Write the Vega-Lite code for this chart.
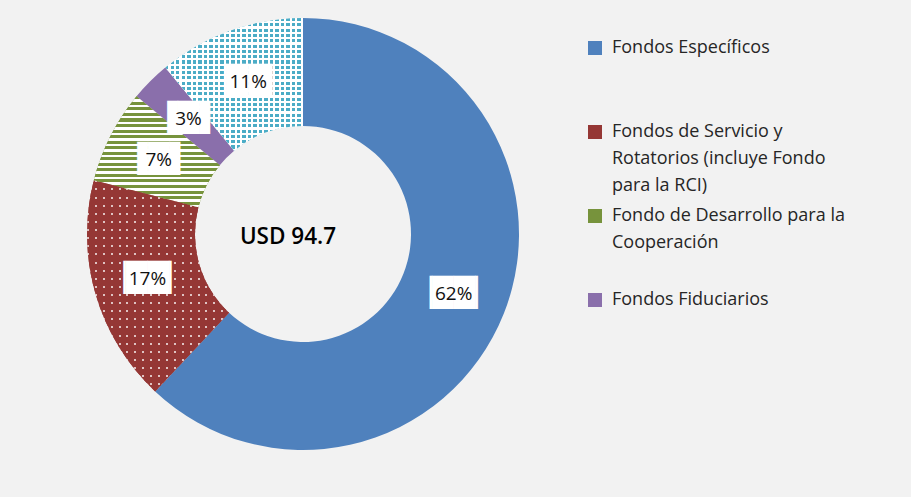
{
  "$schema": "https://vega.github.io/schema/vega-lite/v6.json",
  "width": 566,
  "height": 468,
  "autosize": {"type": "none"},
  "padding": {"left": 20, "top": 0, "right": 325, "bottom": 29},
  "background": "#f2f2f2",
  "config": {"view": {"stroke": null}, "font": "Open Sans", "style": {"guide-label": {"lineHeight": 27}}},
  "data": {"values": [
    {"cat": "Fondos Específicos", "share": 0.62, "order": 1},
    {"cat": "Fondos de Servicio y Rotatorios (incluye Fondo para la RCI)", "share": 0.17, "order": 2},
    {"cat": "Fondo de Desarrollo para la Cooperación", "share": 0.07, "order": 3},
    {"cat": "Fondos Fiduciarios", "share": 0.03, "order": 4},
    {"cat": "Otros", "share": 0.11, "order": 5}
  ]},
  "layer": [
    {
      "transform": [{"stack": "share", "groupby": [], "sort": [{"field": "order", "order": "ascending"}], "as": ["t0", "t1"]}],
      "mark": {"type": "arc", "outerRadius": 216, "innerRadius": 108},
      "encoding": {
        "theta": {"field": "t0", "type": "quantitative", "scale": {"domain": [0, 1]}},
        "theta2": {"field": "t1"},
        "color": {
          "field": "cat", "type": "nominal",
          "scale": {
            "domain": ["Fondos Específicos", "Fondos de Servicio y Rotatorios (incluye Fondo para la RCI)", "Fondo de Desarrollo para la Cooperación", "Fondos Fiduciarios", "Otros"],
            "range": ["#4f81bd", "#953735", "#77933c", "#8a6fab", "#ffffff"]
          },
          "legend": {
            "values": ["Fondos Específicos", "Fondos de Servicio y Rotatorios (incluye Fondo para la RCI)", "Fondo de Desarrollo para la Cooperación", "Fondos Fiduciarios"],
            "orient": "none", "legendX": 566, "legendY": 39,
            "title": null, "padding": 0,
            "symbolType": "square", "symbolSize": 196, "symbolStrokeWidth": 0,
            "labelFont": "Open Sans", "labelFontSize": 18, "labelColor": "#262626",
            "labelLimit": 330, "labelOffset": 8, "rowPadding": 12,
            "labelExpr": "datum.value == 'Fondos de Servicio y Rotatorios (incluye Fondo para la RCI)' ? ['Fondos de Servicio  y', 'Rotatorios  (incluye  Fondo', 'para  la RCI)'] : datum.value == 'Fondo de Desarrollo para la Cooperación' ? ['Fondo de Desarrollo  para la', 'Cooperación', ''] : datum.value == 'Fondos Fiduciarios' ? 'Fondos  Fiduciarios' : ['Fondos  Específicos', '', '']"
          }
        }
      }
    },
    {
      "transform": [
        {"stack": "share", "groupby": [], "sort": [{"field": "order", "order": "ascending"}], "as": ["t0", "t1"]},
        {"filter": "datum.order == 3"}
      ],
      "mark": {
        "type": "arc", "outerRadius": 216, "innerRadius": 108,
        "fill": {
          "gradient": "linear", "x1": 0, "y1": 0, "x2": 0, "y2": 1,
          "stops": [
            {"offset": 0, "color": "#77933c"}, {"offset": 0.0275, "color": "#77933c"}, {"offset": 0.0275, "color": "#ffffff"}, {"offset": 0.05, "color": "#ffffff"},
            {"offset": 0.05, "color": "#77933c"}, {"offset": 0.0775, "color": "#77933c"}, {"offset": 0.0775, "color": "#ffffff"}, {"offset": 0.1, "color": "#ffffff"},
            {"offset": 0.1, "color": "#77933c"}, {"offset": 0.1275, "color": "#77933c"}, {"offset": 0.1275, "color": "#ffffff"}, {"offset": 0.15, "color": "#ffffff"},
            {"offset": 0.15, "color": "#77933c"}, {"offset": 0.1775, "color": "#77933c"}, {"offset": 0.1775, "color": "#ffffff"}, {"offset": 0.2, "color": "#ffffff"},
            {"offset": 0.2, "color": "#77933c"}, {"offset": 0.2275, "color": "#77933c"}, {"offset": 0.2275, "color": "#ffffff"}, {"offset": 0.25, "color": "#ffffff"},
            {"offset": 0.25, "color": "#77933c"}, {"offset": 0.2775, "color": "#77933c"}, {"offset": 0.2775, "color": "#ffffff"}, {"offset": 0.3, "color": "#ffffff"},
            {"offset": 0.3, "color": "#77933c"}, {"offset": 0.3275, "color": "#77933c"}, {"offset": 0.3275, "color": "#ffffff"}, {"offset": 0.35, "color": "#ffffff"},
            {"offset": 0.35, "color": "#77933c"}, {"offset": 0.3775, "color": "#77933c"}, {"offset": 0.3775, "color": "#ffffff"}, {"offset": 0.4, "color": "#ffffff"},
            {"offset": 0.4, "color": "#77933c"}, {"offset": 0.4275, "color": "#77933c"}, {"offset": 0.4275, "color": "#ffffff"}, {"offset": 0.45, "color": "#ffffff"},
            {"offset": 0.45, "color": "#77933c"}, {"offset": 0.4775, "color": "#77933c"}, {"offset": 0.4775, "color": "#ffffff"}, {"offset": 0.5, "color": "#ffffff"},
            {"offset": 0.5, "color": "#77933c"}, {"offset": 0.5275, "color": "#77933c"}, {"offset": 0.5275, "color": "#ffffff"}, {"offset": 0.55, "color": "#ffffff"},
            {"offset": 0.55, "color": "#77933c"}, {"offset": 0.5775, "color": "#77933c"}, {"offset": 0.5775, "color": "#ffffff"}, {"offset": 0.6, "color": "#ffffff"},
            {"offset": 0.6, "color": "#77933c"}, {"offset": 0.6275, "color": "#77933c"}, {"offset": 0.6275, "color": "#ffffff"}, {"offset": 0.65, "color": "#ffffff"},
            {"offset": 0.65, "color": "#77933c"}, {"offset": 0.6775, "color": "#77933c"}, {"offset": 0.6775, "color": "#ffffff"}, {"offset": 0.7, "color": "#ffffff"},
            {"offset": 0.7, "color": "#77933c"}, {"offset": 0.7275, "color": "#77933c"}, {"offset": 0.7275, "color": "#ffffff"}, {"offset": 0.75, "color": "#ffffff"},
            {"offset": 0.75, "color": "#77933c"}, {"offset": 0.7775, "color": "#77933c"}, {"offset": 0.7775, "color": "#ffffff"}, {"offset": 0.8, "color": "#ffffff"},
            {"offset": 0.8, "color": "#77933c"}, {"offset": 0.8275, "color": "#77933c"}, {"offset": 0.8275, "color": "#ffffff"}, {"offset": 0.85, "color": "#ffffff"},
            {"offset": 0.85, "color": "#77933c"}, {"offset": 0.8775, "color": "#77933c"}, {"offset": 0.8775, "color": "#ffffff"}, {"offset": 0.9, "color": "#ffffff"},
            {"offset": 0.9, "color": "#77933c"}, {"offset": 0.9275, "color": "#77933c"}, {"offset": 0.9275, "color": "#ffffff"}, {"offset": 0.95, "color": "#ffffff"},
            {"offset": 0.95, "color": "#77933c"}, {"offset": 0.9775, "color": "#77933c"}, {"offset": 0.9775, "color": "#ffffff"}, {"offset": 1, "color": "#ffffff"}
          ]
        }
      },
      "encoding": {
        "theta": {"field": "t0", "type": "quantitative", "scale": {"domain": [0, 1]}},
        "theta2": {"field": "t1"}
      }
    },
    {
      "transform": [
        {"stack": "share", "groupby": [], "sort": [{"field": "order", "order": "ascending"}], "as": ["t0", "t1"]},
        {"filter": "datum.order == 5"}
      ],
      "mark": {
        "type": "arc", "outerRadius": 216, "innerRadius": 108,
        "fill": {
          "gradient": "linear", "x1": 0, "y1": 0, "x2": 1, "y2": 0,
          "stops": [
            {"offset": 0, "color": "#4bacc6"}, {"offset": 0.023, "color": "#4bacc6"}, {"offset": 0.023, "color": "rgba(255,255,255,0)"}, {"offset": 0.04, "color": "rgba(255,255,255,0)"},
            {"offset": 0.04, "color": "#4bacc6"}, {"offset": 0.063, "color": "#4bacc6"}, {"offset": 0.063, "color": "rgba(255,255,255,0)"}, {"offset": 0.08, "color": "rgba(255,255,255,0)"},
            {"offset": 0.08, "color": "#4bacc6"}, {"offset": 0.103, "color": "#4bacc6"}, {"offset": 0.103, "color": "rgba(255,255,255,0)"}, {"offset": 0.12, "color": "rgba(255,255,255,0)"},
            {"offset": 0.12, "color": "#4bacc6"}, {"offset": 0.143, "color": "#4bacc6"}, {"offset": 0.143, "color": "rgba(255,255,255,0)"}, {"offset": 0.16, "color": "rgba(255,255,255,0)"},
            {"offset": 0.16, "color": "#4bacc6"}, {"offset": 0.183, "color": "#4bacc6"}, {"offset": 0.183, "color": "rgba(255,255,255,0)"}, {"offset": 0.2, "color": "rgba(255,255,255,0)"},
            {"offset": 0.2, "color": "#4bacc6"}, {"offset": 0.223, "color": "#4bacc6"}, {"offset": 0.223, "color": "rgba(255,255,255,0)"}, {"offset": 0.24, "color": "rgba(255,255,255,0)"},
            {"offset": 0.24, "color": "#4bacc6"}, {"offset": 0.263, "color": "#4bacc6"}, {"offset": 0.263, "color": "rgba(255,255,255,0)"}, {"offset": 0.28, "color": "rgba(255,255,255,0)"},
            {"offset": 0.28, "color": "#4bacc6"}, {"offset": 0.303, "color": "#4bacc6"}, {"offset": 0.303, "color": "rgba(255,255,255,0)"}, {"offset": 0.32, "color": "rgba(255,255,255,0)"},
            {"offset": 0.32, "color": "#4bacc6"}, {"offset": 0.343, "color": "#4bacc6"}, {"offset": 0.343, "color": "rgba(255,255,255,0)"}, {"offset": 0.36, "color": "rgba(255,255,255,0)"},
            {"offset": 0.36, "color": "#4bacc6"}, {"offset": 0.383, "color": "#4bacc6"}, {"offset": 0.383, "color": "rgba(255,255,255,0)"}, {"offset": 0.4, "color": "rgba(255,255,255,0)"},
            {"offset": 0.4, "color": "#4bacc6"}, {"offset": 0.423, "color": "#4bacc6"}, {"offset": 0.423, "color": "rgba(255,255,255,0)"}, {"offset": 0.44, "color": "rgba(255,255,255,0)"},
            {"offset": 0.44, "color": "#4bacc6"}, {"offset": 0.463, "color": "#4bacc6"}, {"offset": 0.463, "color": "rgba(255,255,255,0)"}, {"offset": 0.48, "color": "rgba(255,255,255,0)"},
            {"offset": 0.48, "color": "#4bacc6"}, {"offset": 0.503, "color": "#4bacc6"}, {"offset": 0.503, "color": "rgba(255,255,255,0)"}, {"offset": 0.52, "color": "rgba(255,255,255,0)"},
            {"offset": 0.52, "color": "#4bacc6"}, {"offset": 0.543, "color": "#4bacc6"}, {"offset": 0.543, "color": "rgba(255,255,255,0)"}, {"offset": 0.56, "color": "rgba(255,255,255,0)"},
            {"offset": 0.56, "color": "#4bacc6"}, {"offset": 0.583, "color": "#4bacc6"}, {"offset": 0.583, "color": "rgba(255,255,255,0)"}, {"offset": 0.6, "color": "rgba(255,255,255,0)"},
            {"offset": 0.6, "color": "#4bacc6"}, {"offset": 0.623, "color": "#4bacc6"}, {"offset": 0.623, "color": "rgba(255,255,255,0)"}, {"offset": 0.64, "color": "rgba(255,255,255,0)"},
            {"offset": 0.64, "color": "#4bacc6"}, {"offset": 0.663, "color": "#4bacc6"}, {"offset": 0.663, "color": "rgba(255,255,255,0)"}, {"offset": 0.68, "color": "rgba(255,255,255,0)"},
            {"offset": 0.68, "color": "#4bacc6"}, {"offset": 0.703, "color": "#4bacc6"}, {"offset": 0.703, "color": "rgba(255,255,255,0)"}, {"offset": 0.72, "color": "rgba(255,255,255,0)"},
            {"offset": 0.72, "color": "#4bacc6"}, {"offset": 0.743, "color": "#4bacc6"}, {"offset": 0.743, "color": "rgba(255,255,255,0)"}, {"offset": 0.76, "color": "rgba(255,255,255,0)"},
            {"offset": 0.76, "color": "#4bacc6"}, {"offset": 0.783, "color": "#4bacc6"}, {"offset": 0.783, "color": "rgba(255,255,255,0)"}, {"offset": 0.8, "color": "rgba(255,255,255,0)"},
            {"offset": 0.8, "color": "#4bacc6"}, {"offset": 0.823, "color": "#4bacc6"}, {"offset": 0.823, "color": "rgba(255,255,255,0)"}, {"offset": 0.84, "color": "rgba(255,255,255,0)"},
            {"offset": 0.84, "color": "#4bacc6"}, {"offset": 0.863, "color": "#4bacc6"}, {"offset": 0.863, "color": "rgba(255,255,255,0)"}, {"offset": 0.88, "color": "rgba(255,255,255,0)"},
            {"offset": 0.88, "color": "#4bacc6"}, {"offset": 0.903, "color": "#4bacc6"}, {"offset": 0.903, "color": "rgba(255,255,255,0)"}, {"offset": 0.92, "color": "rgba(255,255,255,0)"},
            {"offset": 0.92, "color": "#4bacc6"}, {"offset": 0.943, "color": "#4bacc6"}, {"offset": 0.943, "color": "rgba(255,255,255,0)"}, {"offset": 0.96, "color": "rgba(255,255,255,0)"},
            {"offset": 0.96, "color": "#4bacc6"}, {"offset": 0.983, "color": "#4bacc6"}, {"offset": 0.983, "color": "rgba(255,255,255,0)"}, {"offset": 1, "color": "rgba(255,255,255,0)"}
          ]
        }
      },
      "encoding": {
        "theta": {"field": "t0", "type": "quantitative", "scale": {"domain": [0, 1]}},
        "theta2": {"field": "t1"}
      }
    },
    {
      "transform": [
        {"stack": "share", "groupby": [], "sort": [{"field": "order", "order": "ascending"}], "as": ["t0", "t1"]},
        {"filter": "datum.order == 5"}
      ],
      "mark": {
        "type": "arc", "outerRadius": 216, "innerRadius": 108,
        "fill": {
          "gradient": "linear", "x1": 0, "y1": 0, "x2": 0, "y2": 1,
          "stops": [
            {"offset": 0, "color": "rgba(255,255,255,0)"}, {"offset": 0.023, "color": "rgba(255,255,255,0)"}, {"offset": 0.023, "color": "#ffffff"}, {"offset": 0.04, "color": "#ffffff"},
            {"offset": 0.04, "color": "rgba(255,255,255,0)"}, {"offset": 0.063, "color": "rgba(255,255,255,0)"}, {"offset": 0.063, "color": "#ffffff"}, {"offset": 0.08, "color": "#ffffff"},
            {"offset": 0.08, "color": "rgba(255,255,255,0)"}, {"offset": 0.103, "color": "rgba(255,255,255,0)"}, {"offset": 0.103, "color": "#ffffff"}, {"offset": 0.12, "color": "#ffffff"},
            {"offset": 0.12, "color": "rgba(255,255,255,0)"}, {"offset": 0.143, "color": "rgba(255,255,255,0)"}, {"offset": 0.143, "color": "#ffffff"}, {"offset": 0.16, "color": "#ffffff"},
            {"offset": 0.16, "color": "rgba(255,255,255,0)"}, {"offset": 0.183, "color": "rgba(255,255,255,0)"}, {"offset": 0.183, "color": "#ffffff"}, {"offset": 0.2, "color": "#ffffff"},
            {"offset": 0.2, "color": "rgba(255,255,255,0)"}, {"offset": 0.223, "color": "rgba(255,255,255,0)"}, {"offset": 0.223, "color": "#ffffff"}, {"offset": 0.24, "color": "#ffffff"},
            {"offset": 0.24, "color": "rgba(255,255,255,0)"}, {"offset": 0.263, "color": "rgba(255,255,255,0)"}, {"offset": 0.263, "color": "#ffffff"}, {"offset": 0.28, "color": "#ffffff"},
            {"offset": 0.28, "color": "rgba(255,255,255,0)"}, {"offset": 0.303, "color": "rgba(255,255,255,0)"}, {"offset": 0.303, "color": "#ffffff"}, {"offset": 0.32, "color": "#ffffff"},
            {"offset": 0.32, "color": "rgba(255,255,255,0)"}, {"offset": 0.343, "color": "rgba(255,255,255,0)"}, {"offset": 0.343, "color": "#ffffff"}, {"offset": 0.36, "color": "#ffffff"},
            {"offset": 0.36, "color": "rgba(255,255,255,0)"}, {"offset": 0.383, "color": "rgba(255,255,255,0)"}, {"offset": 0.383, "color": "#ffffff"}, {"offset": 0.4, "color": "#ffffff"},
            {"offset": 0.4, "color": "rgba(255,255,255,0)"}, {"offset": 0.423, "color": "rgba(255,255,255,0)"}, {"offset": 0.423, "color": "#ffffff"}, {"offset": 0.44, "color": "#ffffff"},
            {"offset": 0.44, "color": "rgba(255,255,255,0)"}, {"offset": 0.463, "color": "rgba(255,255,255,0)"}, {"offset": 0.463, "color": "#ffffff"}, {"offset": 0.48, "color": "#ffffff"},
            {"offset": 0.48, "color": "rgba(255,255,255,0)"}, {"offset": 0.503, "color": "rgba(255,255,255,0)"}, {"offset": 0.503, "color": "#ffffff"}, {"offset": 0.52, "color": "#ffffff"},
            {"offset": 0.52, "color": "rgba(255,255,255,0)"}, {"offset": 0.543, "color": "rgba(255,255,255,0)"}, {"offset": 0.543, "color": "#ffffff"}, {"offset": 0.56, "color": "#ffffff"},
            {"offset": 0.56, "color": "rgba(255,255,255,0)"}, {"offset": 0.583, "color": "rgba(255,255,255,0)"}, {"offset": 0.583, "color": "#ffffff"}, {"offset": 0.6, "color": "#ffffff"},
            {"offset": 0.6, "color": "rgba(255,255,255,0)"}, {"offset": 0.623, "color": "rgba(255,255,255,0)"}, {"offset": 0.623, "color": "#ffffff"}, {"offset": 0.64, "color": "#ffffff"},
            {"offset": 0.64, "color": "rgba(255,255,255,0)"}, {"offset": 0.663, "color": "rgba(255,255,255,0)"}, {"offset": 0.663, "color": "#ffffff"}, {"offset": 0.68, "color": "#ffffff"},
            {"offset": 0.68, "color": "rgba(255,255,255,0)"}, {"offset": 0.703, "color": "rgba(255,255,255,0)"}, {"offset": 0.703, "color": "#ffffff"}, {"offset": 0.72, "color": "#ffffff"},
            {"offset": 0.72, "color": "rgba(255,255,255,0)"}, {"offset": 0.743, "color": "rgba(255,255,255,0)"}, {"offset": 0.743, "color": "#ffffff"}, {"offset": 0.76, "color": "#ffffff"},
            {"offset": 0.76, "color": "rgba(255,255,255,0)"}, {"offset": 0.783, "color": "rgba(255,255,255,0)"}, {"offset": 0.783, "color": "#ffffff"}, {"offset": 0.8, "color": "#ffffff"},
            {"offset": 0.8, "color": "rgba(255,255,255,0)"}, {"offset": 0.823, "color": "rgba(255,255,255,0)"}, {"offset": 0.823, "color": "#ffffff"}, {"offset": 0.84, "color": "#ffffff"},
            {"offset": 0.84, "color": "rgba(255,255,255,0)"}, {"offset": 0.863, "color": "rgba(255,255,255,0)"}, {"offset": 0.863, "color": "#ffffff"}, {"offset": 0.88, "color": "#ffffff"},
            {"offset": 0.88, "color": "rgba(255,255,255,0)"}, {"offset": 0.903, "color": "rgba(255,255,255,0)"}, {"offset": 0.903, "color": "#ffffff"}, {"offset": 0.92, "color": "#ffffff"},
            {"offset": 0.92, "color": "rgba(255,255,255,0)"}, {"offset": 0.943, "color": "rgba(255,255,255,0)"}, {"offset": 0.943, "color": "#ffffff"}, {"offset": 0.96, "color": "#ffffff"},
            {"offset": 0.96, "color": "rgba(255,255,255,0)"}, {"offset": 0.983, "color": "rgba(255,255,255,0)"}, {"offset": 0.983, "color": "#ffffff"}, {"offset": 1, "color": "#ffffff"}
          ]
        }
      },
      "encoding": {
        "theta": {"field": "t0", "type": "quantitative", "scale": {"domain": [0, 1]}},
        "theta2": {"field": "t1"}
      }
    },
    {
      "transform": [
        {"stack": "share", "groupby": [], "sort": [{"field": "order", "order": "ascending"}], "as": ["t0", "t1"]},
        {"filter": "datum.order == 2"}
      ],
      "mark": {
        "type": "arc", "outerRadius": 216, "innerRadius": 108,
        "fill": {
          "gradient": "linear", "x1": 0, "y1": 0, "x2": 1, "y2": 0,
          "stops": [
            {"offset": 0, "color": "rgba(255,255,255,0.7)"}, {"offset": 0.0141, "color": "rgba(255,255,255,0.7)"}, {"offset": 0.0141, "color": "rgba(255,255,255,0)"}, {"offset": 0.0556, "color": "rgba(255,255,255,0)"},
            {"offset": 0.0556, "color": "rgba(255,255,255,0.7)"}, {"offset": 0.0697, "color": "rgba(255,255,255,0.7)"}, {"offset": 0.0697, "color": "rgba(255,255,255,0)"}, {"offset": 0.1111, "color": "rgba(255,255,255,0)"},
            {"offset": 0.1111, "color": "rgba(255,255,255,0.7)"}, {"offset": 0.1252, "color": "rgba(255,255,255,0.7)"}, {"offset": 0.1252, "color": "rgba(255,255,255,0)"}, {"offset": 0.1667, "color": "rgba(255,255,255,0)"},
            {"offset": 0.1667, "color": "rgba(255,255,255,0.7)"}, {"offset": 0.1808, "color": "rgba(255,255,255,0.7)"}, {"offset": 0.1808, "color": "rgba(255,255,255,0)"}, {"offset": 0.2222, "color": "rgba(255,255,255,0)"},
            {"offset": 0.2222, "color": "rgba(255,255,255,0.7)"}, {"offset": 0.2363, "color": "rgba(255,255,255,0.7)"}, {"offset": 0.2363, "color": "rgba(255,255,255,0)"}, {"offset": 0.2778, "color": "rgba(255,255,255,0)"},
            {"offset": 0.2778, "color": "rgba(255,255,255,0.7)"}, {"offset": 0.2919, "color": "rgba(255,255,255,0.7)"}, {"offset": 0.2919, "color": "rgba(255,255,255,0)"}, {"offset": 0.3333, "color": "rgba(255,255,255,0)"},
            {"offset": 0.3333, "color": "rgba(255,255,255,0.7)"}, {"offset": 0.3474, "color": "rgba(255,255,255,0.7)"}, {"offset": 0.3474, "color": "rgba(255,255,255,0)"}, {"offset": 0.3889, "color": "rgba(255,255,255,0)"},
            {"offset": 0.3889, "color": "rgba(255,255,255,0.7)"}, {"offset": 0.403, "color": "rgba(255,255,255,0.7)"}, {"offset": 0.403, "color": "rgba(255,255,255,0)"}, {"offset": 0.4444, "color": "rgba(255,255,255,0)"},
            {"offset": 0.4444, "color": "rgba(255,255,255,0.7)"}, {"offset": 0.4585, "color": "rgba(255,255,255,0.7)"}, {"offset": 0.4585, "color": "rgba(255,255,255,0)"}, {"offset": 0.5, "color": "rgba(255,255,255,0)"},
            {"offset": 0.5, "color": "rgba(255,255,255,0.7)"}, {"offset": 0.5141, "color": "rgba(255,255,255,0.7)"}, {"offset": 0.5141, "color": "rgba(255,255,255,0)"}, {"offset": 0.5556, "color": "rgba(255,255,255,0)"},
            {"offset": 0.5556, "color": "rgba(255,255,255,0.7)"}, {"offset": 0.5697, "color": "rgba(255,255,255,0.7)"}, {"offset": 0.5697, "color": "rgba(255,255,255,0)"}, {"offset": 0.6111, "color": "rgba(255,255,255,0)"},
            {"offset": 0.6111, "color": "rgba(255,255,255,0.7)"}, {"offset": 0.6252, "color": "rgba(255,255,255,0.7)"}, {"offset": 0.6252, "color": "rgba(255,255,255,0)"}, {"offset": 0.6667, "color": "rgba(255,255,255,0)"},
            {"offset": 0.6667, "color": "rgba(255,255,255,0.7)"}, {"offset": 0.6808, "color": "rgba(255,255,255,0.7)"}, {"offset": 0.6808, "color": "rgba(255,255,255,0)"}, {"offset": 0.7222, "color": "rgba(255,255,255,0)"},
            {"offset": 0.7222, "color": "rgba(255,255,255,0.7)"}, {"offset": 0.7363, "color": "rgba(255,255,255,0.7)"}, {"offset": 0.7363, "color": "rgba(255,255,255,0)"}, {"offset": 0.7778, "color": "rgba(255,255,255,0)"},
            {"offset": 0.7778, "color": "rgba(255,255,255,0.7)"}, {"offset": 0.7919, "color": "rgba(255,255,255,0.7)"}, {"offset": 0.7919, "color": "rgba(255,255,255,0)"}, {"offset": 0.8333, "color": "rgba(255,255,255,0)"},
            {"offset": 0.8333, "color": "rgba(255,255,255,0.7)"}, {"offset": 0.8474, "color": "rgba(255,255,255,0.7)"}, {"offset": 0.8474, "color": "rgba(255,255,255,0)"}, {"offset": 0.8889, "color": "rgba(255,255,255,0)"},
            {"offset": 0.8889, "color": "rgba(255,255,255,0.7)"}, {"offset": 0.903, "color": "rgba(255,255,255,0.7)"}, {"offset": 0.903, "color": "rgba(255,255,255,0)"}, {"offset": 0.9444, "color": "rgba(255,255,255,0)"},
            {"offset": 0.9444, "color": "rgba(255,255,255,0.7)"}, {"offset": 0.9585, "color": "rgba(255,255,255,0.7)"}, {"offset": 0.9585, "color": "rgba(255,255,255,0)"}, {"offset": 1, "color": "rgba(255,255,255,0)"}
          ]
        }
      },
      "encoding": {
        "theta": {"field": "t0", "type": "quantitative", "scale": {"domain": [0, 1]}},
        "theta2": {"field": "t1"}
      }
    },
    {
      "transform": [
        {"stack": "share", "groupby": [], "sort": [{"field": "order", "order": "ascending"}], "as": ["t0", "t1"]},
        {"filter": "datum.order == 2"}
      ],
      "mark": {
        "type": "arc", "outerRadius": 216, "innerRadius": 108,
        "fill": {
          "gradient": "linear", "x1": 0, "y1": 0, "x2": 0, "y2": 1,
          "stops": [
            {"offset": 0, "color": "rgba(149,55,53,0)"}, {"offset": 0.0095, "color": "rgba(149,55,53,0)"}, {"offset": 0.0095, "color": "#953735"}, {"offset": 0.0385, "color": "#953735"},
            {"offset": 0.0385, "color": "rgba(149,55,53,0)"}, {"offset": 0.048, "color": "rgba(149,55,53,0)"}, {"offset": 0.048, "color": "#953735"}, {"offset": 0.0769, "color": "#953735"},
            {"offset": 0.0769, "color": "rgba(149,55,53,0)"}, {"offset": 0.0864, "color": "rgba(149,55,53,0)"}, {"offset": 0.0864, "color": "#953735"}, {"offset": 0.1154, "color": "#953735"},
            {"offset": 0.1154, "color": "rgba(149,55,53,0)"}, {"offset": 0.1249, "color": "rgba(149,55,53,0)"}, {"offset": 0.1249, "color": "#953735"}, {"offset": 0.1538, "color": "#953735"},
            {"offset": 0.1538, "color": "rgba(149,55,53,0)"}, {"offset": 0.1633, "color": "rgba(149,55,53,0)"}, {"offset": 0.1633, "color": "#953735"}, {"offset": 0.1923, "color": "#953735"},
            {"offset": 0.1923, "color": "rgba(149,55,53,0)"}, {"offset": 0.2018, "color": "rgba(149,55,53,0)"}, {"offset": 0.2018, "color": "#953735"}, {"offset": 0.2308, "color": "#953735"},
            {"offset": 0.2308, "color": "rgba(149,55,53,0)"}, {"offset": 0.2403, "color": "rgba(149,55,53,0)"}, {"offset": 0.2403, "color": "#953735"}, {"offset": 0.2692, "color": "#953735"},
            {"offset": 0.2692, "color": "rgba(149,55,53,0)"}, {"offset": 0.2787, "color": "rgba(149,55,53,0)"}, {"offset": 0.2787, "color": "#953735"}, {"offset": 0.3077, "color": "#953735"},
            {"offset": 0.3077, "color": "rgba(149,55,53,0)"}, {"offset": 0.3172, "color": "rgba(149,55,53,0)"}, {"offset": 0.3172, "color": "#953735"}, {"offset": 0.3462, "color": "#953735"},
            {"offset": 0.3462, "color": "rgba(149,55,53,0)"}, {"offset": 0.3557, "color": "rgba(149,55,53,0)"}, {"offset": 0.3557, "color": "#953735"}, {"offset": 0.3846, "color": "#953735"},
            {"offset": 0.3846, "color": "rgba(149,55,53,0)"}, {"offset": 0.3941, "color": "rgba(149,55,53,0)"}, {"offset": 0.3941, "color": "#953735"}, {"offset": 0.4231, "color": "#953735"},
            {"offset": 0.4231, "color": "rgba(149,55,53,0)"}, {"offset": 0.4326, "color": "rgba(149,55,53,0)"}, {"offset": 0.4326, "color": "#953735"}, {"offset": 0.4615, "color": "#953735"},
            {"offset": 0.4615, "color": "rgba(149,55,53,0)"}, {"offset": 0.471, "color": "rgba(149,55,53,0)"}, {"offset": 0.471, "color": "#953735"}, {"offset": 0.5, "color": "#953735"},
            {"offset": 0.5, "color": "rgba(149,55,53,0)"}, {"offset": 0.5095, "color": "rgba(149,55,53,0)"}, {"offset": 0.5095, "color": "#953735"}, {"offset": 0.5385, "color": "#953735"},
            {"offset": 0.5385, "color": "rgba(149,55,53,0)"}, {"offset": 0.548, "color": "rgba(149,55,53,0)"}, {"offset": 0.548, "color": "#953735"}, {"offset": 0.5769, "color": "#953735"},
            {"offset": 0.5769, "color": "rgba(149,55,53,0)"}, {"offset": 0.5864, "color": "rgba(149,55,53,0)"}, {"offset": 0.5864, "color": "#953735"}, {"offset": 0.6154, "color": "#953735"},
            {"offset": 0.6154, "color": "rgba(149,55,53,0)"}, {"offset": 0.6249, "color": "rgba(149,55,53,0)"}, {"offset": 0.6249, "color": "#953735"}, {"offset": 0.6538, "color": "#953735"},
            {"offset": 0.6538, "color": "rgba(149,55,53,0)"}, {"offset": 0.6633, "color": "rgba(149,55,53,0)"}, {"offset": 0.6633, "color": "#953735"}, {"offset": 0.6923, "color": "#953735"},
            {"offset": 0.6923, "color": "rgba(149,55,53,0)"}, {"offset": 0.7018, "color": "rgba(149,55,53,0)"}, {"offset": 0.7018, "color": "#953735"}, {"offset": 0.7308, "color": "#953735"},
            {"offset": 0.7308, "color": "rgba(149,55,53,0)"}, {"offset": 0.7403, "color": "rgba(149,55,53,0)"}, {"offset": 0.7403, "color": "#953735"}, {"offset": 0.7692, "color": "#953735"},
            {"offset": 0.7692, "color": "rgba(149,55,53,0)"}, {"offset": 0.7787, "color": "rgba(149,55,53,0)"}, {"offset": 0.7787, "color": "#953735"}, {"offset": 0.8077, "color": "#953735"},
            {"offset": 0.8077, "color": "rgba(149,55,53,0)"}, {"offset": 0.8172, "color": "rgba(149,55,53,0)"}, {"offset": 0.8172, "color": "#953735"}, {"offset": 0.8462, "color": "#953735"},
            {"offset": 0.8462, "color": "rgba(149,55,53,0)"}, {"offset": 0.8557, "color": "rgba(149,55,53,0)"}, {"offset": 0.8557, "color": "#953735"}, {"offset": 0.8846, "color": "#953735"},
            {"offset": 0.8846, "color": "rgba(149,55,53,0)"}, {"offset": 0.8941, "color": "rgba(149,55,53,0)"}, {"offset": 0.8941, "color": "#953735"}, {"offset": 0.9231, "color": "#953735"},
            {"offset": 0.9231, "color": "rgba(149,55,53,0)"}, {"offset": 0.9326, "color": "rgba(149,55,53,0)"}, {"offset": 0.9326, "color": "#953735"}, {"offset": 0.9615, "color": "#953735"},
            {"offset": 0.9615, "color": "rgba(149,55,53,0)"}, {"offset": 0.971, "color": "rgba(149,55,53,0)"}, {"offset": 0.971, "color": "#953735"}, {"offset": 1, "color": "#953735"}
          ]
        }
      },
      "encoding": {
        "theta": {"field": "t0", "type": "quantitative", "scale": {"domain": [0, 1]}},
        "theta2": {"field": "t1"}
      }
    },
    {
      "mark": {"type": "text", "radius": 162, "font": "DejaVu Sans", "fontSize": 28, "color": "#ffffff", "baseline": "middle", "align": "center"},
      "encoding": {
        "theta": {"field": "share", "type": "quantitative", "stack": true, "scale": {"domain": [0, 1]}},
        "order": {"field": "order", "type": "quantitative"},
        "text": {"condition": {"test": "datum.share < 0.1", "value": "▐█▌"}, "value": "▕██▏"}
      }
    },
    {
      "mark": {"type": "text", "radius": 162, "font": "Open Sans", "fontSize": 19, "color": "#111111", "baseline": "middle", "align": "center"},
      "encoding": {
        "theta": {"field": "share", "type": "quantitative", "stack": true, "scale": {"domain": [0, 1]}},
        "order": {"field": "order", "type": "quantitative"},
        "text": {"field": "share", "type": "quantitative", "format": ".0%"}
      }
    },
    {
      "data": {"values": [{"total": "USD 94.7"}]},
      "mark": {"type": "text", "font": "Open Sans", "fontSize": 22.5, "fontWeight": 600, "color": "#000000", "baseline": "middle", "align": "center", "dx": -15, "dy": 3},
      "encoding": {"text": {"field": "total", "type": "nominal"}}
    }
  ]
}
